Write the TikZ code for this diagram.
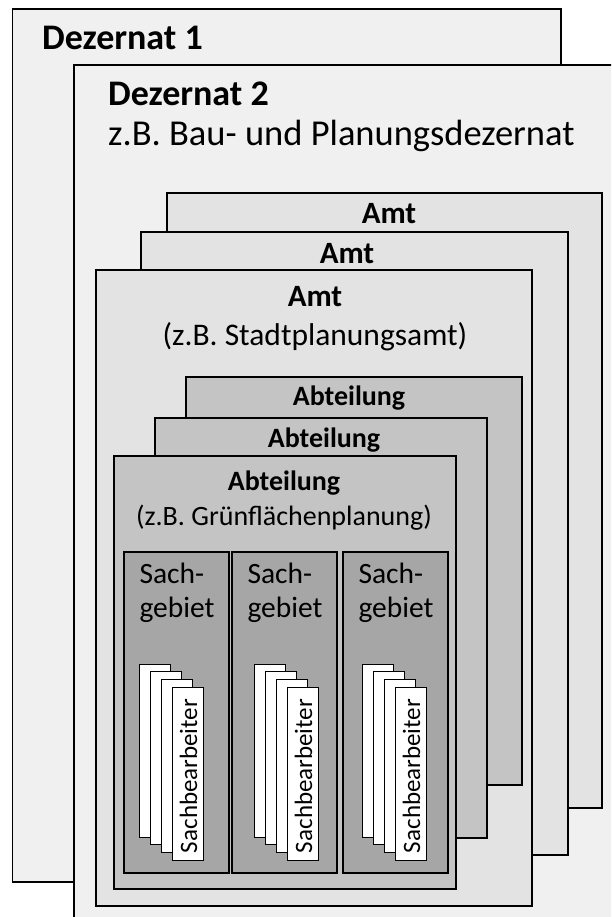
\documentclass[tikz,border=0pt]{standalone}
\usepackage{fontspec}
\setmainfont{Carlito}

\begin{document}
\begin{tikzpicture}[
      x=1pt, y=-1pt,
      frame/.style={draw=black, line width=1.3pt},
      dezernat/.style={frame, fill=black!6},
      amt/.style={frame, fill=black!11},
      abteilung/.style={frame, fill=black!23},
      sachgebiet/.style={frame, fill=black!35},
      akte/.style={draw=black, line width=1pt, fill=white},
      every node/.style={inner sep=0pt, anchor=base},
      gross/.style={font=\bfseries\fontsize{36}{40}\selectfont},
      grosszusatz/.style={font=\fontsize{36.5}{40}\selectfont},
      titel/.style={font=\bfseries\fontsize{31}{36}\selectfont},
      zusatz/.style={font=\fontsize{31.5}{36}\selectfont},
      klein/.style={font=\bfseries\fontsize{28}{32}\selectfont},
      kleinzusatz/.style={font=\fontsize{28}{32}\selectfont}
   ]

      \path[use as bounding box, fill=white] (0,0) rectangle (611,917);
      \clip (0,0) rectangle (611,917);

      % Dezernate
      \draw[dezernat] (12.5,9) rectangle (561,882);
      \node[gross, anchor=base west] (dez1) at (42,50) {Dezernat 1};
      \draw[dezernat] (74,65) rectangle (640,940);
      \node[gross, anchor=base west] (dez2) at (108,106) {Dezernat 2};
      \node[grosszusatz, anchor=base west] (dez2bsp) at (108,146)
         {z.B. Bau- und Planungsdezernat};

      % Aemter, von hinten nach vorne
      \draw[amt] (167,193) rectangle (602,808);
      \node[titel] (amt3) at (389,223) {Amt};
      \draw[amt] (141,232) rectangle (568,855);
      \node[titel] (amt2) at (347,263) {Amt};
      \draw[amt] (96,270) rectangle (532,906);
      \node[titel] (amt1) at (315,306) {Amt};
      \node[zusatz] (amt1bsp) at (315,345) {(z.B. Stadtplanungsamt)};

      % Abteilungen
      \draw[abteilung] (186,377) rectangle (522,785);
      \node[klein] (abt3) at (349,405) {Abteilung};
      \draw[abteilung] (155,418) rectangle (487,838);
      \node[klein] (abt2) at (324,447) {Abteilung};
      \draw[abteilung] (114,456) rectangle (456,889);
      \node[klein] (abt1) at (284,490) {Abteilung};
      \node[kleinzusatz] (abt1bsp) at (284,525) {(z.B. Grünflächenplanung)};

      % Sachgebiete mit je vier Sachbearbeitern
      \foreach \x/\k [count=\n] in {124/15, 232/22, 343/19} {
         \draw[sachgebiet] (\x,552) rectangle (\x+105,873);
         \node[font=\fontsize{29.5}{34}\selectfont, anchor=north, align=left]
            (sg\n) at (\x+53,563) {Sach-\\gebiet};
         \foreach \i in {0,...,3}
            \draw[akte] (\x+\k+11.3*\i,664+7.7*\i) rectangle +(31,173);
         \node[font=\fontsize{25}{28}\selectfont, rotate=90, anchor=center]
            (sb\n) at (\x+\k+34+15.5,687+89) {Sachbearbeiter};
      }
   \end{tikzpicture}
\end{document}
